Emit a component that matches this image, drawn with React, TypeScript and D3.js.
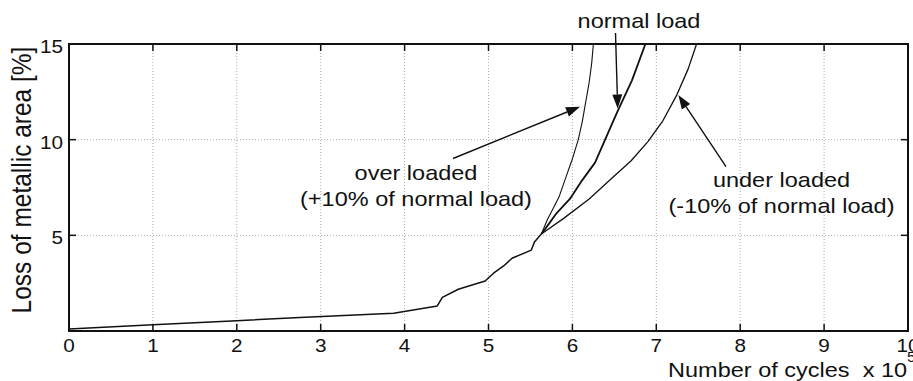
import { useEffect, useRef } from 'react';
import * as d3 from 'd3';

// cycles in units of 1e5, loss in %
const xTicks = [0, 1, 2, 3, 4, 5, 6, 7, 8, 9, 10];
const yTicks = [5, 10, 15];

const commonX = [0, 1, 2, 2.75, 3.87, 4.39, 4.45, 4.64, 4.96, 5.06, 5.18, 5.28, 5.51, 5.55, 5.63];
const commonY = [0.1, 0.33, 0.54, 0.7, 0.93, 1.31, 1.76, 2.18, 2.61, 3.02, 3.4, 3.8, 4.23, 4.67, 5.07];

const overX = [5.63, 5.7, 5.77, 5.84, 5.92, 6.0, 6.07, 6.12, 6.16, 6.2, 6.23, 6.25];
const overY = [5.07, 5.8, 6.4, 7.0, 8.0, 9.0, 10.0, 11.0, 12.0, 13.0, 14.0, 15];

const normalX = [5.63, 5.72, 5.81, 5.97, 6.12, 6.27, 6.39, 6.53, 6.71, 6.87];
const normalY = [5.07, 5.6, 6.15, 6.9, 7.9, 8.8, 10.0, 11.4, 13.1, 15];

const underX = [5.63, 5.9, 6.2, 6.45, 6.7, 6.9, 7.08, 7.24, 7.38, 7.48];
const underY = [5.07, 5.9, 6.9, 7.9, 8.9, 9.9, 11.0, 12.3, 13.7, 15];

const FONT = '"Liberation Sans", Arial, sans-serif';
const STRETCH = 1.12;

function zip(xs: number[], ys: number[]): [number, number][] {
    return xs.map((v, i) => [v, ys[i]]);
}

function label(g: any, x: number, y: number, txt: string, size: number, anchor = 'middle', rot = 0) {
    return g.append('text')
        .attr('transform', `translate(${x},${y}) scale(${STRETCH},1)` + (rot ? ` rotate(${rot})` : ''))
        .attr('text-anchor', anchor)
        .style('font-family', FONT)
        .style('font-size', size + 'px')
        .style('white-space', 'pre')
        .attr('fill', '#111')
        .text(txt);
}

function arrow(g: any, x1: number, y1: number, x2: number, y2: number) {
    const ang = Math.atan2(y2 - y1, x2 - x1);
    const len = 14, half = 5;
    const bx = x2 - len * Math.cos(ang), by = y2 - len * Math.sin(ang);
    g.append('line')
        .attr('x1', x1).attr('y1', y1).attr('x2', bx).attr('y2', by)
        .attr('stroke', '#111').attr('stroke-width', 1.4);
    const pts = [
        [x2, y2],
        [bx + half * Math.sin(ang), by - half * Math.cos(ang)],
        [bx - half * Math.sin(ang), by + half * Math.cos(ang)],
    ];
    g.append('polygon').attr('points', pts.map(p => p.join(',')).join(' ')).attr('fill', '#111');
}

const renderChart = (node: SVGSVGElement) => {
    const svg = d3.select(node);
    svg.selectAll('*').remove();

    const left = 69, right = 908, top = 44, bottom = 331;
    const x = d3.scaleLinear().domain([0, 10]).range([left, right]);
    const y = d3.scaleLinear().domain([0, 15]).range([bottom, top]);

    const g = svg.append('g');

    // grid
    g.selectAll('.vgrid').data(xTicks.slice(1, -1)).enter().append('line')
        .attr('x1', d => x(d)).attr('x2', d => x(d)).attr('y1', top).attr('y2', bottom)
        .attr('stroke', '#aaa').attr('stroke-width', 1).attr('stroke-dasharray', '1,2');
    g.selectAll('.hgrid').data(yTicks.slice(0, -1)).enter().append('line')
        .attr('x1', left).attr('x2', right).attr('y1', d => y(d)).attr('y2', d => y(d))
        .attr('stroke', '#aaa').attr('stroke-width', 1).attr('stroke-dasharray', '1,2');

    // tick marks
    const tk = 7;
    xTicks.forEach(t => {
        g.append('line').attr('x1', x(t)).attr('x2', x(t)).attr('y1', bottom).attr('y2', bottom - tk).attr('stroke', '#111').attr('stroke-width', 1.5);
        g.append('line').attr('x1', x(t)).attr('x2', x(t)).attr('y1', top).attr('y2', top + tk).attr('stroke', '#111').attr('stroke-width', 1.5);
    });
    yTicks.forEach(t => {
        g.append('line').attr('x1', left).attr('x2', left + tk).attr('y1', y(t)).attr('y2', y(t)).attr('stroke', '#111').attr('stroke-width', 1.5);
        g.append('line').attr('x1', right).attr('x2', right - tk).attr('y1', y(t)).attr('y2', y(t)).attr('stroke', '#111').attr('stroke-width', 1.5);
    });

    // curves
    const line = d3.line<[number, number]>().x(d => x(d[0])).y(d => y(d[1]));
    const curves: [number[], number[], number][] = [
        [commonX, commonY, 1.5],
        [overX, overY, 1.1],
        [normalX, normalY, 1.8],
        [underX, underY, 1.3],
    ];
    curves.forEach(([xs, ys, w]) => {
        g.append('path').attr('d', line(zip(xs, ys))).attr('fill', 'none')
            .attr('stroke', '#111').attr('stroke-width', w).attr('stroke-linejoin', 'round');
    });

    // frame
    g.append('rect').attr('x', left).attr('y', top).attr('width', right - left).attr('height', bottom - top)
        .attr('fill', 'none').attr('stroke', '#111').attr('stroke-width', 2);

    // tick labels
    xTicks.forEach(t => label(g, x(t), bottom + 21, String(t), 18.5));
    yTicks.forEach(t => label(g, left - 6, y(t) + 9, String(t), 18.5, 'end'));

    // axis titles
    label(g, 668, 377, 'Number of cycles  x 10', 21, 'start');
    label(g, 907, 362, '5', 14, 'start');
    label(g, 31, 180, 'Loss of metallic area [%]', 24.5, 'middle', -90);

    // annotations
    label(g, 639, 28, 'normal load', 21);
    arrow(g, 615.5, 33, 617.7, 108.5);

    label(g, 416, 180, 'over loaded', 21);
    label(g, 416, 206, '(+10% of normal load)', 21);
    arrow(g, 453, 158.5, 580, 106.7);

    label(g, 781.5, 187, 'under loaded', 21);
    label(g, 781.5, 213, '(-10% of normal load)', 21);
    arrow(g, 726, 166.7, 678.3, 95);
};

const App = () => {
    const ref = useRef<SVGSVGElement>(null);

    useEffect(() => {
        if (ref.current) renderChart(ref.current);
    }, []);

    return (
        <svg ref={ref} width={913} height={381}
            style={{ position: 'absolute', left: 0, top: 0, background: '#fff' }} />
    );
};

export default App;
